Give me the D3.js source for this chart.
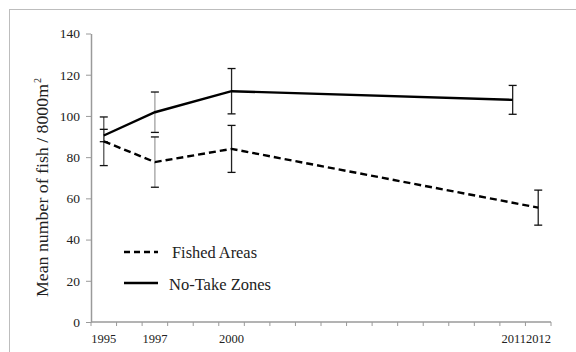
<!DOCTYPE html>
<html>
<head>
<meta charset="utf-8">
<script src="https://cdn.jsdelivr.net/npm/d3@7"></script>
<style>
  body { margin: 0; background: #fff; }
  svg text { font-family: "Liberation Serif", "DejaVu Serif", serif; fill: #222; }
</style>
</head>
<body>
<svg id="chart" width="576" height="352"></svg>
<script>
// categories: every year 1995..2012, only some labelled
const years = d3.range(1995, 2013);
const labelledYears = [1995, 1997, 2000, 2011, 2012];
const yTicks = [0, 20, 40, 60, 80, 100, 120, 140];

// No-Take Zones
const noTakeYears = [1995, 1997, 2000, 2011];
const noTakeMeans = [90.5, 101.8, 112.0, 107.8];
const noTakeErr = [3, 9.8, 11, 7];

// Fished Areas
const fishedYears = [1995, 1997, 2000, 2012];
const fishedMeans = [87.7, 77.6, 84.0, 55.5];
const fishedErr = [11.8, 12.2, 11.4, 8.5];

const margin = { top: 33.5, left: 91, right: 25, bottom: 30 };

const svg = d3.select('#chart');

// outer chart frame (only top/left visible in the crop)
svg.append('rect')
    .attr('x', 9.5).attr('y', 9.5)
    .attr('width', 600).attr('height', 400)
    .attr('fill', 'none')
    .attr('stroke', '#bdbdbd');

const x = d3.scaleBand()
    .domain(years)
    .range([margin.left, 551])
    .paddingInner(0).paddingOuter(0);

const y = d3.scaleLinear()
    .domain([0, 140])
    .range([322, margin.top]);

const xc = d => x(d) + x.bandwidth() / 2;

// y axis
const yAxisG = svg.append('g')
    .attr('transform', `translate(${margin.left},0)`)
    .call(d3.axisLeft(y).tickValues(yTicks).tickSize(5).tickSizeOuter(0).tickPadding(6));
yAxisG.select('.domain').attr('stroke', '#9a9a9a').attr('stroke-width', 1.5);
yAxisG.selectAll('.tick line').attr('stroke', '#9a9a9a');
yAxisG.selectAll('.tick text').attr('font-size', 13.5);

// x axis: ticks between categories
const xAxisG = svg.append('g')
    .attr('transform', `translate(0,${y(0)})`);
xAxisG.append('line')
    .attr('x1', margin.left).attr('x2', 551)
    .attr('stroke', '#9a9a9a').attr('stroke-width', 1.5);
const tickPos = years.map(d => x(d)).concat([x(years[years.length - 1]) + x.bandwidth()]);
xAxisG.selectAll('.xtick')
    .data(tickPos)
    .join('line')
    .attr('x1', d => d).attr('x2', d => d)
    .attr('y1', 0).attr('y2', 4)
    .attr('stroke', '#9a9a9a');

const xLabels = xAxisG.selectAll('.xlab')
    .data(labelledYears)
    .join('text')
    .attr('x', d => xc(d))
    .attr('y', 21)
    .attr('text-anchor', 'middle')
    .attr('font-size', 12.5)
    .text(d => d);

// the last two labels crowd together: put them end to end at the axis end
const lastEdge = x(2012) + x.bandwidth();
const w2012 = xLabels.filter(d => d === 2012).node().getComputedTextLength();
xLabels.filter(d => d >= 2011)
    .attr('text-anchor', 'end')
    .attr('x', d => d === 2012 ? lastEdge : lastEdge - w2012);

// y axis title (stretched a little, the original font runs wider)
const title = svg.append('g')
    .attr('transform', 'translate(47.5,297) rotate(-90)');
title.append('text')
    .attr('font-size', 16.5)
    .attr('textLength', 213)
    .attr('lengthAdjust', 'spacingAndGlyphs')
    .text('Mean number of fish / 8000m');
title.append('text')
    .attr('x', 214)
    .attr('y', -7)
    .attr('font-size', 10)
    .text('2');

const line = d3.line()
    .x(d => xc(d[0]))
    .y(d => y(d[1]));

const fishedData = fishedYears.map((d, i) => [d, fishedMeans[i], fishedErr[i]]);
const noTakeData = noTakeYears.map((d, i) => [d, noTakeMeans[i], noTakeErr[i]]);

function drawErr(data, colours) {
    const g = svg.append('g');
    data.forEach((d, i) => {
        const cx = xc(d[0]);
        g.append('line')
            .attr('x1', cx).attr('x2', cx)
            .attr('y1', y(d[1] - d[2])).attr('y2', y(d[1] + d[2]))
            .attr('stroke', colours[i]).attr('stroke-width', 1.3);
        [d[1] - d[2], d[1] + d[2]].forEach(v => {
            g.append('line')
                .attr('x1', cx - 4).attr('x2', cx + 4)
                .attr('y1', y(v)).attr('y2', y(v))
                .attr('stroke', '#111').attr('stroke-width', 1.3);
        });
    });
}

drawErr(fishedData, ['#555', '#a0a0a0', '#222', '#222']);
drawErr(noTakeData, ['#555', '#a0a0a0', '#222', '#222']);

svg.append('path')
    .datum(fishedData)
    .attr('d', line)
    .attr('fill', 'none')
    .attr('stroke', '#000')
    .attr('stroke-width', 2.4)
    .attr('stroke-dasharray', '7,4');

svg.append('path')
    .datum(noTakeData)
    .attr('d', line)
    .attr('fill', 'none')
    .attr('stroke', '#000')
    .attr('stroke-width', 2.4);

// legend
const legend = svg.append('g');
legend.append('line')
    .attr('x1', 124).attr('x2', 158).attr('y1', 252).attr('y2', 252)
    .attr('stroke', '#000').attr('stroke-width', 2.4).attr('stroke-dasharray', '6,4');
legend.append('text')
    .attr('x', 172).attr('y', 258).attr('font-size', 16.5)
    .attr('textLength', 85).attr('lengthAdjust', 'spacingAndGlyphs')
    .text('Fished Areas');
legend.append('line')
    .attr('x1', 124).attr('x2', 158).attr('y1', 283).attr('y2', 283)
    .attr('stroke', '#000').attr('stroke-width', 2.4);
legend.append('text')
    .attr('x', 169).attr('y', 290).attr('font-size', 16.5)
    .attr('textLength', 102).attr('lengthAdjust', 'spacingAndGlyphs')
    .text('No-Take Zones');
</script>
</body>
</html>
